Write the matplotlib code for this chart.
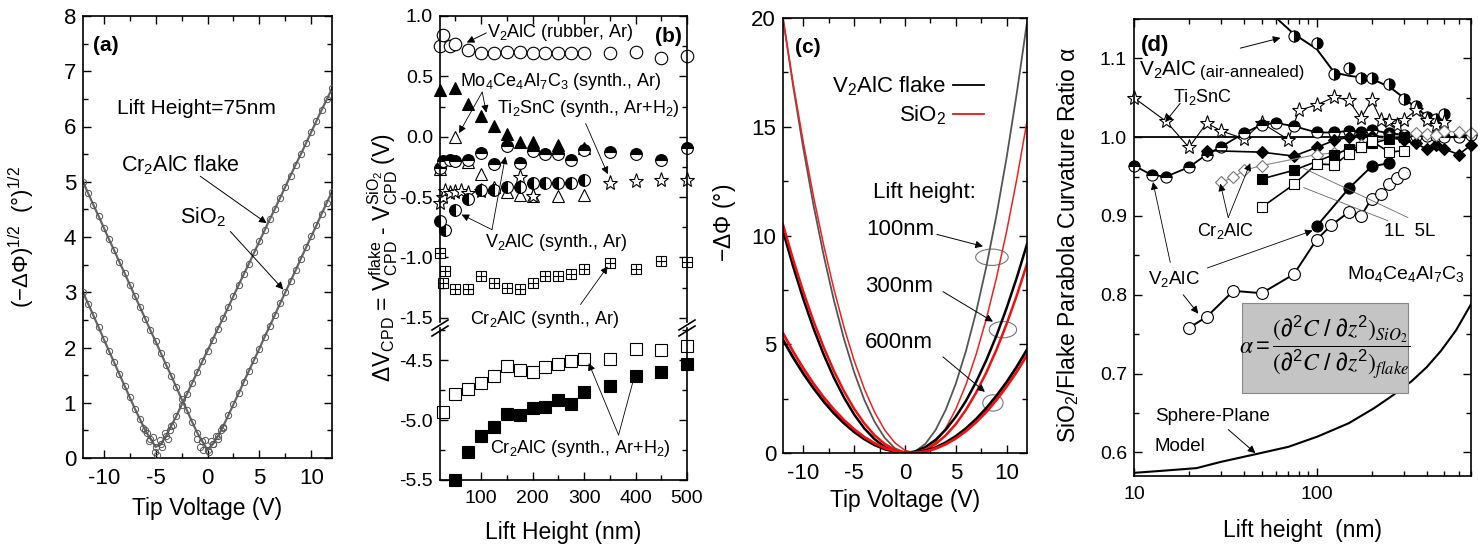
import numpy as np
import matplotlib
matplotlib.use('Agg')
import matplotlib.pyplot as plt
from matplotlib.patches import Ellipse, Rectangle
from matplotlib.lines import Line2D
from matplotlib.ticker import MultipleLocator, LogLocator, NullFormatter, FormatStrFormatter

plt.rcParams['font.family'] = ['Liberation Sans', 'DejaVu Sans']
plt.rcParams['mathtext.fontset'] = 'custom'
plt.rcParams['mathtext.rm'] = 'Liberation Sans'
plt.rcParams['mathtext.it'] = 'Liberation Sans:italic'
plt.rcParams['mathtext.bf'] = 'Liberation Sans:bold'
plt.rcParams['mathtext.sf'] = 'Liberation Sans'
plt.rcParams['mathtext.default'] = 'regular'
plt.rcParams['axes.unicode_minus'] = False

# ---------------- panel (a) data ----------------
a_volt = [-12, -11.5, -11, -10.5, -10, -9.5, -9, -8.5, -8, -7.5, -7, -6.5, -6, -5.5, -5,
          -4.5, -4, -3.5, -3, -2.5, -2, -1.5, -1, -0.5, 0, 0.5, 1, 1.5, 2, 2.5, 3, 3.5,
          4, 4.5, 5, 5.5, 6, 6.5, 7, 7.5, 8, 8.5, 9, 9.5, 10, 10.5, 11, 11.5, 12]
a_cr2alc = [3.0, 2.79, 2.58, 2.37, 2.15, 1.94, 1.73, 1.52, 1.31, 1.10, 0.89, 0.70, 0.50, 0.35, 0.20,
            0.25, 0.40, 0.58, 0.76, 0.96, 1.15, 1.35, 1.55, 1.75, 1.94, 2.14, 2.34, 2.53, 2.73, 2.93,
            3.13, 3.33, 3.52, 3.72, 3.92, 4.12, 4.32, 4.51, 4.71, 4.91, 5.11, 5.31, 5.50, 5.70, 5.90,
            6.10, 6.30, 6.49, 6.69]
a_sio2 = [5.0, 4.79, 4.58, 4.38, 4.17, 3.96, 3.76, 3.55, 3.35, 3.14, 2.93, 2.73, 2.52, 2.31, 2.11,
          1.90, 1.69, 1.49, 1.28, 1.07, 0.87, 0.66, 0.46, 0.30, 0.15, 0.25, 0.40, 0.57, 0.77, 0.97,
          1.17, 1.38, 1.58, 1.78, 1.98, 2.19, 2.39, 2.59, 2.80, 3.00, 3.20, 3.40, 3.61, 3.81, 4.01,
          4.21, 4.42, 4.62, 4.82]
a_noise_v = [-6.2, -5.8, -5.6, -5.3, -5.1, -4.9, -4.6, -4.4, -4.1, -3.8, -3.6, -3.3,
             -1.0, -0.7, -0.4, -0.2, 0.1, 0.3, 0.5, 0.8, 1.0, 1.3, 1.5]
a_noise_y = [0.55, 0.45, 0.30, 0.38, 0.10, 0.05, 0.33, 0.20, 0.45, 0.35, 0.50, 0.60,
             0.35, 0.20, 0.15, 0.32, 0.10, 0.30, 0.25, 0.40, 0.35, 0.50, 0.55]

# ---------------- panel (b) data ----------------
b_rub_x = [20, 25, 40, 50, 75, 100, 125, 150, 175, 200, 225, 250, 275, 300, 350, 400, 450, 500]
b_rub_y = [0.75, 0.84, 0.75, 0.77, 0.72, 0.69, 0.69, 0.70, 0.70, 0.69, 0.69, 0.69, 0.69, 0.69, 0.69, 0.70, 0.65, 0.67]
b_mo_f_x = [20, 50, 75, 100, 125, 150, 175, 200, 250, 300]
b_mo_f_y = [0.39, 0.40, 0.27, 0.17, 0.085, 0.02, -0.04, -0.04, -0.07, -0.09]
b_mo_o_x = [20, 50, 75, 100, 125, 150, 175, 200, 250, 300]
b_mo_o_y = [-0.27, 0.0, -0.21, -0.31, -0.42, -0.46, -0.48, -0.49, -0.49, -0.48]
b_vtop_x = [20, 25, 40, 50, 75, 100, 125, 150, 175, 200, 225, 250, 275, 300, 350, 400, 450, 500]
b_vtop_y = [-0.26, -0.20, -0.19, -0.20, -0.19, -0.135, -0.23, -0.08, -0.22, -0.12, -0.145, -0.145,
            -0.19, -0.107, -0.13, -0.14, -0.19, -0.095]
b_ti_x = [20, 25, 30, 40, 50, 60, 75, 100, 175, 200, 350, 400, 450, 500]
b_ti_y = [-0.55, -0.50, -0.45, -0.47, -0.46, -0.45, -0.47, -0.45, -0.33, -0.49, -0.38, -0.37, -0.355, -0.355]
b_vs_x = [20, 30, 50, 75, 100, 125, 150, 175, 200, 225, 250, 275, 300]
b_vs_y = [-0.70, -0.77, -0.61, -0.52, -0.44, -0.44, -0.42, -0.42, -0.38, -0.38, -0.38, -0.38, -0.36]
b_crar_x = [20, 30, 25, 50, 75, 100, 125, 150, 175, 200, 225, 250, 275, 300, 350, 400, 450, 500]
b_crar_y = [-0.96, -1.11, -1.21, -1.26, -1.26, -1.15, -1.215, -1.25, -1.265, -1.21, -1.15, -1.15,
            -1.14, -1.10, -1.05, -1.10, -1.03, -1.04]
b_crh_x = [25, 50, 75, 100, 125, 150, 175, 200, 225, 250, 275, 300, 350, 400, 450, 500]
b_crh_open = [-4.93, -4.78, -4.74, -4.69, -4.63, -4.55, -4.58, -4.60, -4.56, -4.53, -4.51, -4.49,
              -4.49, -4.41, -4.42, -4.38]
b_crh2_x = [50, 75, 100, 125, 150, 175, 200, 225, 250, 275, 300, 350, 400, 450, 500]
b_crh_fill = [-5.50, -5.27, -5.13, -5.06, -4.95, -4.96, -4.90, -4.89, -4.83, -4.87, -4.77, -4.72,
              -4.63, -4.60, -4.53]

# ---------------- panel (c) data ----------------
c_volt = list(range(-12, 13))
c_flake_100 = [20.0, 16.86, 14.0, 11.4, 9.09, 7.03, 5.24, 3.71, 2.44, 1.44, 0.70, 0.22, 0.01,
               0.07, 0.42, 1.05, 1.98, 3.19, 4.70, 6.49, 8.57, 10.94, 13.6, 16.56, 19.8]
c_sio2_100 = [19.94, 16.99, 14.28, 11.8, 9.56, 7.55, 5.78, 4.25, 2.95, 1.89, 1.06, 0.47, 0.12,
              0.0, 0.13, 0.50, 1.13, 2.02, 3.15, 4.54, 6.17, 8.06, 10.2, 12.6, 15.25]
c_flake_300 = [10.2, 8.57, 7.08, 5.73, 4.53, 3.47, 2.55, 1.77, 1.13, 0.64, 0.28, 0.07, 0.0,
               0.07, 0.27, 0.60, 1.07, 1.67, 2.40, 3.27, 4.27, 5.40, 6.67, 8.07, 9.6]
c_sio2_300 = [10.5, 8.89, 7.41, 6.06, 4.86, 3.78, 2.84, 2.03, 1.36, 0.82, 0.42, 0.15, 0.02,
              0.02, 0.15, 0.41, 0.81, 1.33, 1.99, 2.78, 3.70, 4.75, 5.94, 7.25, 8.7]
c_flake_600 = [5.2, 4.39, 3.65, 2.98, 2.37, 1.83, 1.37, 0.97, 0.64, 0.37, 0.18, 0.06, 0.0,
               0.02, 0.10, 0.25, 0.48, 0.77, 1.13, 1.56, 2.06, 2.63, 3.26, 3.97, 4.75]
c_sio2_600 = [5.5, 4.66, 3.89, 3.19, 2.56, 2.0, 1.51, 1.09, 0.73, 0.45, 0.23, 0.09, 0.01,
              0.01, 0.07, 0.20, 0.40, 0.67, 1.01, 1.42, 1.89, 2.44, 3.06, 3.74, 4.5]

# ---------------- panel (d) data ----------------
d_air_x = [75, 100, 125, 150, 175, 200, 250, 300, 350, 400, 450, 500]
d_air_y = [1.129, 1.119, 1.080, 1.0875, 1.075, 1.075, 1.0675, 1.049, 1.039, 1.026, 1.0225, 1.03]
d_air_fit_x = [61, 75, 100, 125, 150, 200, 250, 300, 350, 400, 450]
d_air_fit_y = [1.15, 1.131, 1.112, 1.082, 1.078, 1.074, 1.064, 1.05, 1.037, 1.027, 1.02]
d_ti_x = [10, 15, 20, 25, 30, 40, 50, 70, 80, 100, 125, 150, 175, 200, 225, 250, 275, 300, 350, 400, 450, 500]
d_ti_y = [1.050, 1.020, 0.987, 1.018, 1.008, 0.998, 1.018, 0.997, 1.034, 1.041, 1.051, 1.047, 1.024,
          1.047, 1.022, 1.020, 1.015, 1.022, 1.034, 1.022, 1.015, 1.019]
d_vh_x = [10, 12.5, 15, 20, 25, 30, 40, 50, 60, 75, 100, 125, 150, 175, 200, 250, 300, 350, 400, 450, 500, 600, 700]
d_vh_y = [0.964, 0.952, 0.950, 0.962, 0.978, 0.988, 1.005, 1.016, 1.018, 1.014, 1.006, 1.006, 1.008,
          1.007, 1.009, 1.005, 1.003, 1.002, 1.001, 1.002, 1.0, 1.0, 1.003]
d_fd_x = [25, 50, 75, 100, 125, 150, 175, 200, 250, 300, 350, 400, 450, 500, 600, 700]
d_fd_y = [0.983, 0.981, 0.976, 0.987, 0.996, 1.0, 1.003, 1.002, 1.0, 0.996, 0.992, 0.985, 0.99, 0.985, 0.978, 0.99]
d_od_x = [30, 35, 40, 50, 100, 125, 150, 175, 200, 250, 300, 350, 400, 450, 500, 600, 700]
d_od_y = [0.943, 0.949, 0.958, 0.964, 0.978, 0.980, 0.984, 0.99, 0.995, 1.0, 1.003, 1.005, 1.004, 1.003,
          1.008, 1.006, 1.005]
d_fs_x = [50, 75, 125, 150, 175, 200, 250, 300]
d_fs_y = [0.947, 0.958, 0.978, 0.985, 0.988, 0.992, 0.998, 1.0]
d_os_x = [50, 75, 100, 125, 150, 175, 200, 250, 300]
d_os_y = [0.911, 0.940, 0.966, 0.965, 0.979, 0.988, 0.995, 0.981, 0.983]
d_fc_x = [100, 150, 200, 250]
d_fc_y = [0.887, 0.935, 0.963, 0.967]
d_oc_x = [20, 25, 35, 50, 75, 100, 120, 150, 175, 200, 225, 250, 275, 300]
d_oc_y = [0.758, 0.772, 0.805, 0.802, 0.826, 0.870, 0.888, 0.905, 0.900, 0.922, 0.928, 0.940, 0.948, 0.955]
d_model_x = [10, 15, 22, 30, 47, 70, 101, 150, 206, 260, 330, 400, 480, 580, 700]
d_model_y = [0.574, 0.577, 0.580, 0.588, 0.598, 0.607, 0.620, 0.637, 0.656, 0.672, 0.690, 0.708,
             0.729, 0.755, 0.788]

W, H = 1484, 549
fig = plt.figure(figsize=(W / 100, H / 100), dpi=100)


def rect(l, r, t, b):
    return [l / W, 1 - b / H, (r - l) / W, (b - t) / H]


def style(ax, size):
    ax.tick_params(which='both', direction='in', top=True, right=True, labelsize=size, width=1.0)
    ax.tick_params(which='major', length=6)
    ax.tick_params(which='minor', length=3.5)
    ax.tick_params(axis='x', which='major', pad=7)
    ax.tick_params(axis='y', which='major', pad=5)
    for s in ax.spines.values():
        s.set_linewidth(1.2)


def arrow(ax, tip, tail, lw=0.7, ms=11, color='k'):
    ax.annotate('', xy=tip, xytext=tail,
                arrowprops=dict(arrowstyle='-|>', color=color, lw=lw, mutation_scale=ms,
                                shrinkA=0, shrinkB=0))

# ====================== (a) ======================
axa = fig.add_axes(rect(83, 332, 16, 458))
axa.plot(a_volt, a_cr2alc, '-', color='#666666', lw=1.6, zorder=2)
axa.plot(a_volt, a_sio2, '-', color='#666666', lw=1.6, zorder=2)
axa.plot(a_volt, a_cr2alc, 'o', ms=4.5, mfc='none', mec='#555555', mew=0.7, zorder=3)
axa.plot(a_volt, a_sio2, 'o', ms=4.5, mfc='none', mec='#555555', mew=0.7, zorder=3)
axa.plot(a_noise_v, a_noise_y, 'o', ms=4.5, mfc='none', mec='#555555', mew=0.7, zorder=3)
axa.set_xlim(-12, 12)
axa.set_ylim(0, 8)
axa.xaxis.set_major_locator(MultipleLocator(5))
axa.xaxis.set_minor_locator(MultipleLocator(2.5))
axa.yaxis.set_major_locator(MultipleLocator(1))
axa.yaxis.set_minor_locator(MultipleLocator(0.5))
style(axa, 16)
axa.set_xlabel('Tip Voltage (V)', fontsize=16.5)
axa.xaxis.set_label_coords(0.5, -0.088)
axa.set_ylabel(r'$(-\Delta\Phi)^{1/2}$  (°)$^{1/2}$', fontsize=16, math_fontfamily='stix')
axa.yaxis.set_label_coords(-0.185, 0.5)
axa.text(0.04, 0.955, '(a)', transform=axa.transAxes, fontsize=15, fontweight='bold', va='top')
axa.text(-8.7, 6.33, 'Lift Height=75nm', fontsize=15, va='center')
axa.text(-8.3, 5.3, 'Cr$_2$AlC flake', fontsize=15.5, va='center')
axa.text(-2.65, 4.36, 'SiO$_2$', fontsize=15.5, va='center')
arrow(axa, (5.7, 4.25), (-0.7, 5.1))
arrow(axa, (7.3, 3.05), (2.2, 4.1))

# ====================== (b) ======================
axb = fig.add_axes(rect(440, 687, 16, 322))
axb2 = fig.add_axes(rect(440, 687, 328, 480))
for ax in (axb, axb2):
    ax.set_xlim(20, 500)
    ax.xaxis.set_major_locator(MultipleLocator(100))
    ax.xaxis.set_minor_locator(MultipleLocator(50))
    style(ax, 14)
axb.set_ylim(-1.535, 1.0)
axb2.set_ylim(-5.5, -4.233)
for ax in (axb, axb2):
    ax.yaxis.set_major_locator(MultipleLocator(0.5))
    ax.yaxis.set_minor_locator(MultipleLocator(0.25))
    ax.yaxis.set_major_formatter(FormatStrFormatter('%.1f'))
axb.spines['bottom'].set_visible(False)
axb2.spines['top'].set_visible(False)
axb.tick_params(which='both', bottom=False, labelbottom=False)
axb2.tick_params(which='both', top=False)

mk = dict(ls='none', mew=0.8, mec='k', clip_on=False)
axb.plot(b_rub_x, b_rub_y, marker='o', ms=9, mfc='white', **mk)
axb.plot(b_mo_o_x, b_mo_o_y, marker='^', ms=9, mfc='white', **mk)
axb.plot(b_mo_f_x, b_mo_f_y, marker='^', ms=9, mfc='k', **mk)
axb.plot(b_vtop_x, b_vtop_y, marker='o', ms=8.5, mfc='k', fillstyle='top', markerfacecoloralt='white', **mk)
axb.plot(b_ti_x, b_ti_y, marker='*', ms=11, mfc='white', **mk)
axb.plot(b_vs_x, b_vs_y, marker='o', ms=8.5, mfc='k', fillstyle='left', markerfacecoloralt='white', **mk)
axb.plot(b_crar_x, b_crar_y, marker='s', ms=7, mfc='white', **mk)
axb.plot(b_crar_x, b_crar_y, marker='+', ms=7, mew=0.8, mec='k', ls='none', clip_on=False)
axb2.plot(b_crh_x, b_crh_open, marker='s', ms=8, mfc='white', **mk)
axb2.plot(b_crh2_x, b_crh_fill, marker='s', ms=8, mfc='k', **mk)

for xp in (440, 687):
    for yo in (0, 6):
        fig.add_artist(Line2D([(xp - 8) / W, (xp + 8) / W], [1 - (330 + yo) / H, 1 - (320 + yo) / H],
                              color='k', lw=1.2, transform=fig.transFigure))

axb2.set_xlabel('Lift Height (nm)', fontsize=16.5)
axb2.xaxis.set_label_coords(0.5, -0.27)
fig.text(383 / W, 1 - 258 / H,
         r'$\Delta$V$_{CPD}$ = V$_{CPD}^{flake}$ - V$_{CPD}^{SiO_2}$ (V)',
         rotation=90, fontsize=16.5, ha='center', va='center')
fs_b = 13
axb.text(111.7, 0.86, 'V$_2$AlC (rubber, Ar)', fontsize=fs_b, va='center')
axb.text(0.98, 0.965, '(b)', transform=axb.transAxes, fontsize=15, fontweight='bold', ha='right', va='top')
arrow(axb, (72, 0.78), (110, 0.86))
axb.text(59, 0.455, 'Mo$_4$Ce$_4$Al$_7$C$_3$ (synth., Ar)', fontsize=fs_b, va='center')
arrow(axb, (57, 0.03), (102, 0.37), lw=0.6)
arrow(axb, (110, 0.2), (102, 0.37), lw=0.6)
axb.text(131, 0.237, 'Ti$_2$SnC (synth., Ar+H$_2$)', fontsize=fs_b, va='center')
arrow(axb, (346, -0.31), (303, 0.11), lw=0.6)
axb.text(108, -0.876, 'V$_2$AlC (synth., Ar)', fontsize=fs_b, va='center')
arrow(axb, (147, -0.165), (121, -0.77), lw=0.6)
arrow(axb, (62, -0.645), (121, -0.77), lw=0.6)
fig.text(470 / W, 1 - 320 / H, 'Cr$_2$AlC (synth., Ar)', fontsize=fs_b, va='center')
arrow(axb, (346, -1.074), (293, -1.39), lw=0.6)
axb2.text(117.5, -5.236, 'Cr$_2$AlC (synth., Ar+H$_2$)', fontsize=fs_b, va='center')
arrow(axb2, (309, -4.525), (367, -5.125), lw=0.6)
arrow(axb2, (400, -4.6), (367, -5.125), lw=0.6)

# ====================== (c) ======================
axc = fig.add_axes(rect(783, 1027, 18, 453))
axc.plot(c_volt, c_flake_100, color='#555555', lw=1.3)
axc.plot(c_volt, c_sio2_100, color='#ee2222', lw=1.1)
axc.plot(c_volt, c_flake_300, color='k', lw=1.8)
axc.plot(c_volt, c_sio2_300, color='#ee1111', lw=1.8)
axc.plot(c_volt, c_flake_600, color='k', lw=2.0)
axc.plot(c_volt, c_sio2_600, color='#ee1111', lw=2.0)
axc.set_xlim(-12, 12)
axc.set_ylim(0, 20)
axc.xaxis.set_major_locator(MultipleLocator(5))
axc.xaxis.set_minor_locator(MultipleLocator(2.5))
axc.yaxis.set_major_locator(MultipleLocator(5))
axc.yaxis.set_minor_locator(MultipleLocator(2.5))
style(axc, 16)
axc.set_xlabel('Tip Voltage (V)', fontsize=16.5)
axc.xaxis.set_label_coords(0.5, -0.083)
axc.set_ylabel(r'$-\Delta\Phi$ (°)', fontsize=16.5, math_fontfamily='stix')
axc.yaxis.set_label_coords(-0.184, 0.53)
axc.text(0.05, 0.955, '(c)', transform=axc.transAxes, fontsize=15, fontweight='bold', va='top')
axc.legend([Line2D([], [], color='k', lw=1.3), Line2D([], [], color='#ee1111', lw=1.3)],
           ['V$_2$AlC flake', 'SiO$_2$'], markerfirst=False, frameon=False, fontsize=16,
           loc='upper right', bbox_to_anchor=(0.86, 0.89), borderaxespad=0,
           handlelength=1.4, handletextpad=0.3, labelspacing=0.25)
axc.text(1.96, 11.98, 'Lift height:', fontsize=16, ha='center', va='center')
axc.text(-0.5, 10.28, '100nm', fontsize=16, ha='center', va='center')
axc.text(-0.6, 7.65, '300nm', fontsize=16, ha='center', va='center')
axc.text(-0.6, 5.1, '600nm', fontsize=16, ha='center', va='center')
arrow(axc, (7.67, 9.5), (3.14, 10.05), lw=0.7)
arrow(axc, (8.65, 6.04), (3.73, 7.42), lw=0.7)
arrow(axc, (7.86, 2.81), (3.73, 4.42), lw=0.7)
for cx, cy, ew in ((8.55, 9.0, 3.2), (9.63, 5.67, 2.7), (8.65, 2.3, 2.0)):
    axc.add_patch(Ellipse((cx, cy), ew, 0.75, fill=False, ec='#777777', lw=0.8))

# ====================== (d) ======================
axd = fig.add_axes(rect(1134, 1471, 19, 476))
axd.set_xscale('log')
axd.set_xlim(10, 700)
axd.set_ylim(0.57, 1.15)
axd.axhline(1.0, color='k', lw=1.3)
axd.plot(d_model_x, d_model_y, color='k', lw=1.5)
axd.plot(d_air_fit_x, d_air_fit_y, color='k', lw=1.4)
dm = dict(mew=0.8, mec='k', clip_on=False)
axd.plot(d_air_x, d_air_y, ls='none', marker='o', ms=8, mfc='k', fillstyle='right',
         markerfacecoloralt='white', **dm)
axd.plot(d_ti_x, d_ti_y, color='k', lw=0.8, marker='*', ms=11, mfc='white', **dm)
axd.plot(d_vh_x, d_vh_y, color='k', lw=1.3, marker='o', ms=8, mfc='k', fillstyle='top',
         markerfacecoloralt='white', **dm)
axd.plot(d_fd_x, d_fd_y, color='k', lw=1.2, marker='D', ms=6.5, mfc='k', **dm)
axd.plot(d_od_x, d_od_y, color='#888888', lw=0.8, marker='D', ms=6.5, mfc='white', mew=0.8,
         mec='#777777', clip_on=False)
axd.plot(d_fs_x, d_fs_y, color='k', lw=1.2, marker='s', ms=7, mfc='k', **dm)
axd.plot(d_os_x, d_os_y, color='k', lw=1.2, marker='s', ms=7.5, mfc='white', **dm)
axd.plot(d_fc_x, d_fc_y, color='k', lw=1.4, marker='o', ms=8, mfc='k', **dm)
axd.plot(d_oc_x, d_oc_y, color='k', lw=1.4, marker='o', ms=8.5, mfc='white', **dm)
axd.set_xticks([10, 100])
axd.set_xticklabels(['10', '100'])
axd.xaxis.set_minor_locator(LogLocator(base=10, subs=range(2, 10)))
axd.xaxis.set_minor_formatter(NullFormatter())
axd.yaxis.set_major_locator(MultipleLocator(0.1))
axd.yaxis.set_minor_locator(MultipleLocator(0.05))
axd.yaxis.set_major_formatter(FormatStrFormatter('%.1f'))
style(axd, 14)
axd.set_xlabel('Lift height  (nm)', fontsize=16.5)
axd.xaxis.set_label_coords(0.5, -0.094)
axd.set_ylabel(r'SiO$_2$/Flake Parabola Curvature Ratio $\alpha$', fontsize=16.5)
axd.yaxis.set_label_coords(-0.157, 0.505)
axd.text(0.02, 0.965, '(d)', transform=axd.transAxes, fontsize=16, fontweight='bold', va='top')
axd.text(10.6, 1.085, 'V$_2$AlC', fontsize=15, va='center')
axd.text(23.0, 1.082, '(air-annealed)', fontsize=12, va='center')
arrow(axd, (63.4, 1.126), (38.2, 1.113), lw=0.7)
axd.text(16.4, 1.051, 'Ti$_2$SnC', fontsize=13, va='center')
arrow(axd, (14.8, 1.019), (17.9, 1.043), lw=0.7)
axd.text(22.2, 0.8815, 'Cr$_2$AlC', fontsize=13, va='center')
arrow(axd, (29.7, 0.941), (32.8, 0.898), lw=0.6)
arrow(axd, (43.3, 0.967), (32.8, 0.898), lw=0.6)
axd.text(11.9, 0.82, 'V$_2$AlC', fontsize=13.5, va='center')
arrow(axd, (12.7, 0.943), (15.8, 0.841), lw=0.6)
arrow(axd, (95, 0.8815), (25.2, 0.834), lw=0.6)
arrow(axd, (22.5, 0.776), (18.6, 0.80), lw=0.7)
axd.text(233, 0.88, '1L  5L', fontsize=13.5, va='center')
axd.plot([245, 85], [0.894, 0.936], color='#666666', lw=0.6)
axd.plot([316, 85], [0.898, 0.9605], color='#666666', lw=0.6)
axd.text(641, 0.827, 'Mo$_4$Ce$_4$Al$_7$C$_3$', fontsize=14, va='center', ha='right')
axd.text(13.0, 0.646, 'Sphere-Plane', fontsize=13.5, va='center')
axd.text(13.0, 0.608, 'Model', fontsize=13.5, va='center')
arrow(axd, (46.2, 0.599), (32.8, 0.629), lw=0.7)
axd.add_patch(Rectangle((0.32, 0.182), 0.493, 0.197, transform=axd.transAxes,
                        facecolor='#c4c4c4', edgecolor='#888888', lw=0.8, zorder=4))
axd.text(0.566, 0.281,
         r'$\mathit{\alpha} = \dfrac{\left(\partial^2 \mathit{C}\ /\ \partial \mathit{z}^2\right)_{\mathit{SiO_2}}}'
         r'{\left(\partial^2 \mathit{C}\ /\ \partial \mathit{z}^2\right)_{\mathit{flake}}}$',
         transform=axd.transAxes, fontsize=17, ha='center', va='center', math_fontfamily='stix', zorder=5)

fig.savefig('out.png', dpi=100)
